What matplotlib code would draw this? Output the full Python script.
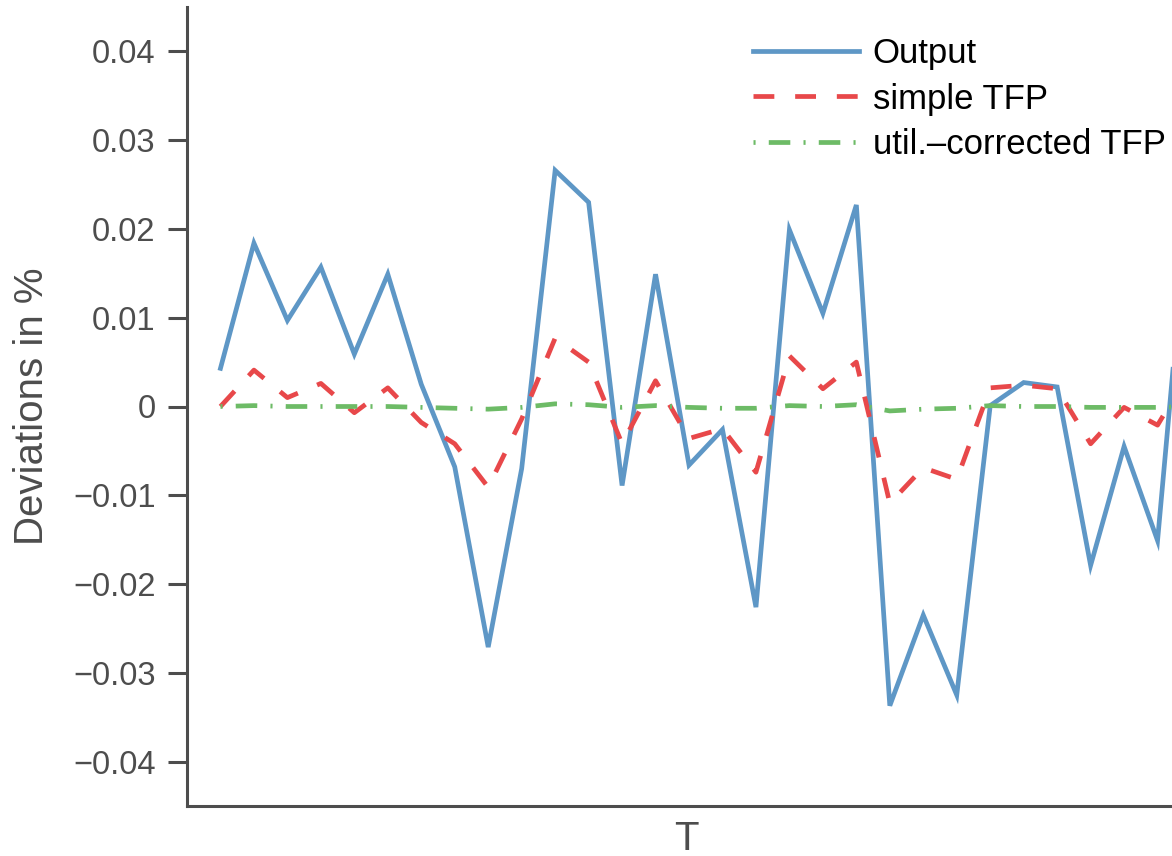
import numpy as np
import matplotlib
matplotlib.use("Agg")
import matplotlib.pyplot as plt
from matplotlib.ticker import FixedLocator, FuncFormatter

# deviations, periods 1..30
periods = list(range(1, 31))
output = [0.0043, 0.0184, 0.0097, 0.0157, 0.0059, 0.0149, 0.0025, -0.0068, -0.0271, -0.0070,
          0.0266, 0.0230, -0.0089, 0.0149, -0.0066, -0.0026, -0.0226, 0.0199, 0.0105, 0.0227,
          -0.0337, -0.0235, -0.0325, 0.0001, 0.0027, 0.0022, -0.0179, -0.0045, -0.0151, 0.0267]
simple_tfp = [0.0000, 0.0041, 0.0010, 0.0026, -0.0007, 0.0021, -0.0018, -0.0042, -0.0091, -0.0014,
              0.0077, 0.0050, -0.0042, 0.0029, -0.0036, -0.0025, -0.0074, 0.0057, 0.0020, 0.0050,
              -0.0109, -0.0069, -0.0082, 0.0021, 0.0024, 0.0020, -0.0042, -0.0001, -0.0021, 0.0042]
util_tfp = [0.0000, 0.0001, 0.0000, 0.0000, 0.0000, 0.0000, -0.0001, -0.0002, -0.0003, -0.0001,
            0.0003, 0.0002, -0.0001, 0.0001, -0.0001, -0.0002, -0.0002, 0.0001, 0.0000, 0.0002,
            -0.0005, -0.0003, -0.0002, 0.0001, 0.0000, 0.0000, -0.0001, -0.0001, -0.0001, 0.0000]
yticks = [-0.04, -0.03, -0.02, -0.01, 0, 0.01, 0.02, 0.03, 0.04]

plt.rcParams['font.family'] = ['Liberation Sans', 'DejaVu Sans']
plt.rcParams['lines.scale_dashes'] = False

gray = '#4d4d4d'
fig = plt.figure(figsize=(11.72, 8.56), dpi=100)
ax = fig.add_axes([187/1172, 50/856, 998/1172, 799/856])

ax.plot(periods, output, color='#5e97c6', lw=3.4, label='Output', solid_joinstyle='miter')
ax.plot(periods, simple_tfp, color='#e8484a', lw=3.4, dashes=(15, 15), label='simple TFP')
ax.plot(periods, util_tfp, color='#6dbb66', lw=3.4, dashes=(1.5, 9.5, 15.5, 9.5), label='util.\u2013corrected TFP')

ax.set_xlim(0, 29.82)
ax.set_ylim(-0.045, 0.045)
ax.set_xticks([])
ax.yaxis.set_major_locator(FixedLocator(yticks))
ax.yaxis.set_major_formatter(FuncFormatter(lambda v, p: ('%g' % round(v, 3)).replace('-', '\u2212')))

for s in ['top', 'right']:
    ax.spines[s].set_visible(False)
for s in ['left', 'bottom']:
    ax.spines[s].set_color(gray)
    ax.spines[s].set_linewidth(2.2)
ax.tick_params(axis='y', direction='out', length=14, width=2.2, color=gray,
               labelcolor=gray, labelsize=23.5, pad=8.5)

ax.set_ylabel('Deviations in %', fontsize=29, color=gray)
ax.yaxis.set_label_coords(-0.136, 0.5)
ax.set_xlabel('T', fontsize=29, color=gray, labelpad=10)

leg = ax.legend(loc='upper left', bbox_to_anchor=(753/1172, 1 - 37/856), bbox_transform=fig.transFigure,
                frameon=False, fontsize=25, handlelength=3.05, handletextpad=0.4,
                labelspacing=0.36, borderpad=0, borderaxespad=0)

fig.savefig('out.png', dpi=100)
